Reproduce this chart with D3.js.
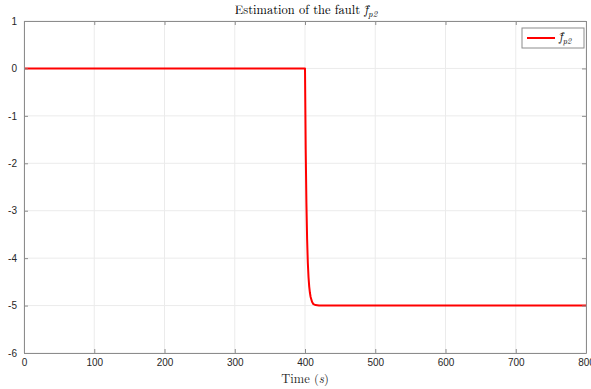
<!DOCTYPE html>
<html><head><meta charset="utf-8">
<script src="https://cdn.jsdelivr.net/npm/d3@7"></script>
<style>body{margin:0;background:#fff}svg{display:block}</style>
</head><body>
<script>
const timeValues = [0, 400, 401, 402, 403, 404, 405, 406, 407, 408, 410, 412, 415, 420, 800];
const faultValues = [0, 0, -1.7, -2.83, -3.59, -4.09, -4.4, -4.6, -4.73, -4.82, -4.92, -4.97, -4.99, -5, -5];
const xTicks = [0, 100, 200, 300, 400, 500, 600, 700, 800];
const yTicks = [1, 0, -1, -2, -3, -4, -5, -6];

const W = 591, H = 389;
const m = {l: 24, r: 5, t: 21, b: 36};
const svg = d3.select("body").append("svg").attr("width", W).attr("height", H);
const x = d3.scaleLinear().domain([0, 800]).range([m.l, W - m.r]);
const y = d3.scaleLinear().domain([-6, 1]).range([H - m.b, m.t]);

// grid
const g = svg.append("g");
g.selectAll(".gx").data(xTicks).join("line")
  .attr("x1", d => x(d)).attr("x2", d => x(d)).attr("y1", y(-6)).attr("y2", y(1))
  .attr("stroke", "#ebebeb").attr("stroke-width", 1);
g.selectAll(".gy").data(yTicks).join("line")
  .attr("x1", x(0)).attr("x2", x(800)).attr("y1", d => y(d)).attr("y2", d => y(d))
  .attr("stroke", "#ebebeb").attr("stroke-width", 1);

// data line
const line = d3.line().x((d, i) => x(timeValues[i])).y(d => y(d));
svg.append("path").datum(faultValues).attr("d", line)
  .attr("fill", "none").attr("stroke", "#ff0000").attr("stroke-width", 2).attr("stroke-linejoin", "round");

// axes
const axColor = "#8c8c8c";
const fmt = d => String(d);
const style = (sel) => {
  sel.select(".domain").attr("stroke", axColor);
  sel.selectAll(".tick line").attr("stroke", axColor);
  sel.selectAll("text").attr("fill", "#262626").style("font-family", "Liberation Sans, Arial, sans-serif").style("font-size", "10px");
};
svg.append("g").attr("transform", `translate(0,${y(-6)})`)
  .call(d3.axisBottom(x).tickValues(xTicks).tickFormat(fmt).tickSizeInner(-4).tickSizeOuter(0).tickPadding(6))
  .call(style);
svg.append("g").attr("transform", `translate(${x(0)},0)`)
  .call(d3.axisLeft(y).tickValues(yTicks).tickFormat(fmt).tickSizeInner(-4).tickSizeOuter(0).tickPadding(7))
  .call(style);
svg.append("g").attr("transform", `translate(0,${y(1)})`)
  .call(d3.axisTop(x).tickValues(xTicks).tickSizeInner(-4).tickSizeOuter(0).tickFormat(""))
  .call(style);
svg.append("g").attr("transform", `translate(${x(800)},0)`)
  .call(d3.axisRight(y).tickValues(yTicks).tickSizeInner(-4).tickSizeOuter(0).tickFormat(""))
  .call(style);

const serif = "Latin Modern Roman, Liberation Serif, DejaVu Serif, serif";
// title
const t = svg.append("text").attr("x", 306).attr("y", 14).attr("text-anchor", "middle")
  .style("font-family", serif).style("font-size", "12.5px").attr("fill", "#000");
t.append("tspan").text("Estimation of the fault ");
t.append("tspan").attr("font-style", "italic").text("f\u0302");
t.append("tspan").attr("font-style", "italic").attr("dy", 3).style("font-size", "9px").text("p2");

// x label
const xl = svg.append("text").attr("x", 305).attr("y", 383).attr("text-anchor", "middle")
  .style("font-family", serif).style("font-size", "12.5px").attr("fill", "#262626");
xl.append("tspan").text("Time (");
xl.append("tspan").attr("font-style", "italic").text("s");
xl.append("tspan").text(")");

// legend
const lg = svg.append("g");
lg.append("rect").attr("x", 522).attr("y", 28).attr("width", 62).attr("height", 20)
  .attr("fill", "#fff").attr("stroke", "#8c8c8c").attr("stroke-width", 1);
lg.append("line").attr("x1", 527).attr("x2", 555).attr("y1", 38).attr("y2", 38)
  .attr("stroke", "#ff0000").attr("stroke-width", 2);
const lt = lg.append("text").attr("x", 559).attr("y", 41)
  .style("font-family", serif).style("font-size", "12px").attr("fill", "#000");
lt.append("tspan").attr("font-style", "italic").text("f\u0302");
lt.append("tspan").attr("font-style", "italic").attr("dy", 3).style("font-size", "8.5px").text("p2");
</script>
</body></html>
